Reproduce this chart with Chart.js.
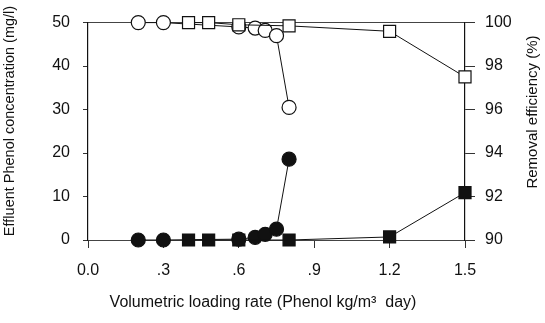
<!DOCTYPE html>
<html>
<head>
<meta charset="utf-8">
<script src="https://cdn.jsdelivr.net/npm/chart.js@4/dist/chart.umd.min.js"></script>
<style>
  html, body { margin: 0; padding: 0; background: #fff; }
  #wrap { width: 545px; height: 323px; }
</style>
</head>
<body>
<div id="wrap"><canvas id="chart" width="545" height="323"></canvas></div>
<script>
// Loading rates (kg/m3 day) for the two runs
const xCircle = [0.2, 0.3, 0.6, 0.665, 0.705, 0.75, 0.8];
const xSquare = [0.4, 0.48, 0.6, 0.8, 1.2, 1.5];

// Effluent phenol (mg/l) - left axis
const concCircle = [0, 0, 0.2, 0.6, 1.3, 2.5, 18.6];
const concSquare = [0, 0, 0, 0, 0.7, 10.9];

// Removal efficiency (%) - right axis
const effCircle = [100, 100, 99.8, 99.75, 99.64, 99.4, 96.1];
const effSquare = [100, 100, 99.9, 99.85, 99.6, 97.5];

// Tick labels
const xTicks = [0, 0.3, 0.6, 0.9, 1.2, 1.5];
const xTickLabels = ['0.0', '.3', '.6', '.9', '1.2', '1.5'];

const fontFamily = 'Liberation Sans, Arial, sans-serif';
const font = { family: fontFamily, size: 16 };

function pts(xs, ys) {
    return xs.map((x, i) => ({ x: x, y: ys[i] }));
}

function series(xs, ys, axis, style, filled) {
    return {
        data: pts(xs, ys),
        yAxisID: axis,
        showLine: true,
        borderColor: '#111',
        borderWidth: 1,
        pointStyle: style,
        pointRadius: style === 'rect' ? 8.5 : 7,
        pointBackgroundColor: filled ? '#111' : '#fff',
        pointBorderColor: '#111',
        pointBorderWidth: 1.2,
        clip: false
    };
}

function drawText(ctx, text, size, x, y, angle) {
    ctx.save();
    ctx.fillStyle = '#111';
    ctx.font = size + 'px ' + fontFamily;
    ctx.textAlign = 'center';
    ctx.textBaseline = 'middle';
    ctx.translate(x, y);
    ctx.rotate(angle);
    ctx.fillText(text, 0, 0);
    ctx.restore();
}

// axis titles placed as in the original (side ones read bottom-to-top)
const axisTitles = {
    id: 'axisTitles',
    afterDraw(chart) {
        const ctx = chart.ctx;
        drawText(ctx, 'Effluent Phenol concentration (mg/l)', 14.5, 10, 121, -Math.PI / 2);
        drawText(ctx, 'Removal efficiency (%)', 15, 533, 112, -Math.PI / 2);
        drawText(ctx, 'Volumetric loading rate (Phenol kg/m³  day)', 16, 263, 303, 0);
    }
};

new Chart(document.getElementById('chart').getContext('2d'), {
    type: 'scatter',
    data: {
        datasets: [
            series(xSquare, concSquare, 'y', 'rect', true),
            series(xCircle, concCircle, 'y', 'circle', true),
            series(xSquare, effSquare, 'y1', 'rect', false),
            series(xCircle, effCircle, 'y1', 'circle', false)
        ]
    },
    plugins: [axisTitles],
    options: {
        responsive: false,
        animation: false,
        layout: { padding: 0 },
        plugins: { legend: { display: false }, tooltip: { enabled: false } },
        scales: {
            x: {
                type: 'linear',
                min: 0,
                max: 1.5,
                afterBuildTicks: s => { s.ticks = xTicks.map(v => ({ value: v })); },
                afterFit: s => { s.height = 83; },
                ticks: {
                    color: '#111',
                    font: font,
                    padding: 13,
                    maxRotation: 0,
                    callback: v => xTickLabels[xTicks.indexOf(v)]
                },
                grid: { drawOnChartArea: false, tickLength: 8, color: '#333' },
                border: { color: '#444', width: 1, dash: [6, 3] }
            },
            xTop: {
                type: 'linear',
                position: 'top',
                min: 0,
                max: 1.5,
                afterFit: s => { s.height = 17; },
                ticks: { display: false },
                grid: { display: false, drawTicks: false },
                border: { color: '#444', width: 1 }
            },
            y: {
                position: 'left',
                min: 0,
                max: 50,
                afterFit: s => { s.width = 88; },
                ticks: { stepSize: 10, color: '#111', font: font, padding: 13 },
                grid: { drawOnChartArea: false, tickLength: 5, color: '#333' },
                border: { color: '#111', width: 1.2 }
            },
            y1: {
                position: 'right',
                min: 90,
                max: 100,
                afterFit: s => { s.width = 80; },
                ticks: { stepSize: 2, color: '#111', font: font, padding: 10 },
                grid: { drawOnChartArea: false, tickLength: 10, color: '#333' },
                border: { color: '#111', width: 1.2 }
            }
        }
    }
});
</script>
</body>
</html>
